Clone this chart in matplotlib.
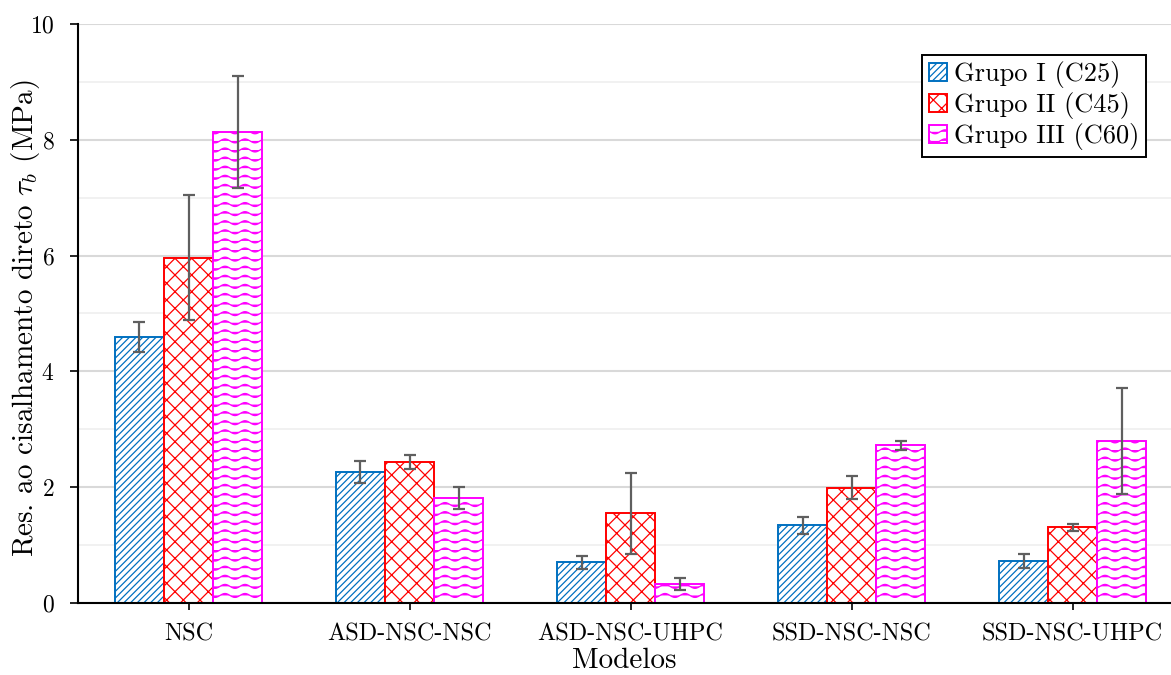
import warnings
import numpy as np
import matplotlib
matplotlib.use("Agg")
import matplotlib.pyplot as plt
from matplotlib import hatch as mhatch
from matplotlib.path import Path
from matplotlib.ticker import MultipleLocator

warnings.filterwarnings("ignore", category=matplotlib.MatplotlibDeprecationWarning)

modelos = ["NSC", "ASD-NSC-NSC", "ASD-NSC-UHPC", "SSD-NSC-NSC", "SSD-NSC-UHPC"]
grupos = ["Grupo I (C25)", "Grupo II (C45)", "Grupo III (C60)"]

tau_c25 = [4.59, 2.26, 0.70, 1.34, 0.73]
tau_c45 = [5.96, 2.43, 1.55, 1.99, 1.31]
tau_c60 = [8.13, 1.82, 0.33, 2.72, 2.80]

err_c25 = [0.26, 0.19, 0.11, 0.15, 0.12]
err_c45 = [1.08, 0.12, 0.70, 0.20, 0.06]
err_c60 = [0.97, 0.19, 0.10, 0.08, 0.92]


class WaveHatch(mhatch.HatchPatternBase):
    """Wavy hatch for the '~' character."""

    def __init__(self, hatch, density):
        self.num_rows = int(hatch.count('~') * density * 11 / 6)
        self.num_pts = 61
        self.num_vertices = self.num_rows * self.num_pts

    def set_vertices_and_codes(self, vertices, codes):
        x = np.linspace(0.0, 1.0, self.num_pts)
        rows, step = np.linspace(0.0, 1.0, self.num_rows, False, retstep=True)
        rows += step / 2.0
        for i, y0 in enumerate(rows):
            sl = slice(i * self.num_pts, (i + 1) * self.num_pts)
            vertices[sl, 0] = x
            vertices[sl, 1] = y0 + 0.02 * np.sin(2 * np.pi * 5 * x)
            codes[sl] = Path.LINETO
            codes[i * self.num_pts] = Path.MOVETO


mhatch._hatch_types.append(WaveHatch)

plt.rcParams["font.family"] = "serif"
plt.rcParams["font.serif"] = ["cmr10"]
plt.rcParams["mathtext.fontset"] = "cm"
plt.rcParams["axes.formatter.use_mathtext"] = True
plt.rcParams["hatch.linewidth"] = 0.9

cores = ["#0070C0", "#FF0000", "#FF00FF"]
hachuras = ["/////", "xx", "~"]
valores = [tau_c25, tau_c45, tau_c60]
erros = [err_c25, err_c45, err_c60]

fig = plt.figure(figsize=(11.71, 6.75), dpi=100)
ax = fig.add_axes([0.0666, 0.1067, 0.9334, 0.8578])

x = np.arange(len(modelos))
w = 0.222
for i in range(3):
    ax.bar(x + (i - 1) * w, valores[i], w, color="white", edgecolor=cores[i],
           hatch=hachuras[i], linewidth=1.4, label=grupos[i], zorder=2)
    ax.errorbar(x + (i - 1) * w, valores[i], yerr=erros[i], fmt="none",
                ecolor="#5f5f5f", elinewidth=1.6, capsize=4, capthick=1.6, zorder=3)

ax.set_xlim(-0.5, 4.445)
ax.set_ylim(0, 10)
ax.yaxis.set_major_locator(MultipleLocator(2))
ax.yaxis.set_minor_locator(MultipleLocator(1))
ax.grid(axis="y", which="major", color="#d9d9d9", linewidth=1.5, zorder=0)
ax.grid(axis="y", which="minor", color="#efefef", linewidth=1.2, zorder=0)
ax.set_axisbelow(True)

ax.set_xticks(x)
ax.set_xticklabels(modelos, fontsize=17.5)
ax.tick_params(axis="y", which="major", labelsize=17, length=6, width=1.2,
               direction="out", pad=11)
ax.tick_params(axis="y", which="minor", length=0)
ax.tick_params(axis="x", length=5, width=1.2, direction="out", pad=9.5)

for s in ["top", "right"]:
    ax.spines[s].set_visible(False)
for s in ["left", "bottom"]:
    ax.spines[s].set_linewidth(1.5)
    ax.spines[s].set_color("black")

ax.set_xlabel("Modelos", fontsize=21, labelpad=2)
ax.set_ylabel(r"Res. ao cisalhamento direto $\tau_b$ (MPa)", fontsize=21)
ax.yaxis.set_label_coords(-0.033, 0.492)

leg = ax.legend(loc="upper right", bbox_to_anchor=(0.977, 0.947), fontsize=19,
                handlelength=0.7, handleheight=0.7, handletextpad=0.25,
                borderpad=0.25, labelspacing=0.15, borderaxespad=0,
                fancybox=False, framealpha=1)
leg.get_frame().set_edgecolor("black")
leg.get_frame().set_linewidth(1.4)

fig.savefig("out.png", dpi=100)
